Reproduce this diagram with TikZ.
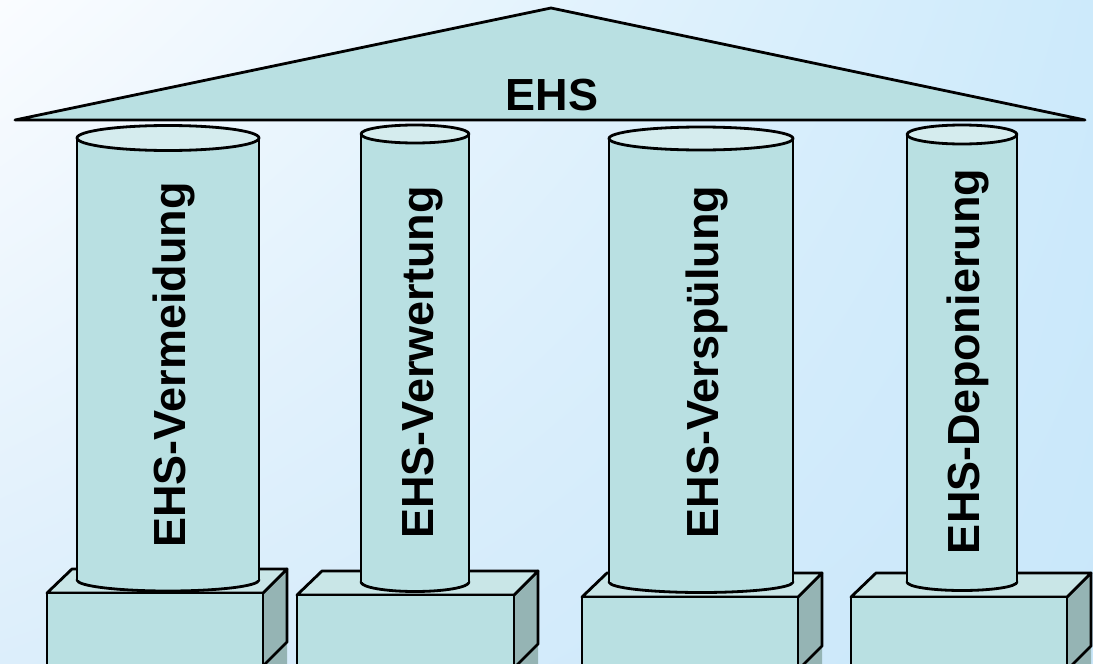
\documentclass[tikz,border=0pt]{standalone}
\usepackage{fontspec}
\setmainfont{Liberation Sans}
\usetikzlibrary{calc,shadings}
\definecolor{bgTL}{HTML}{FAFCFF}
\definecolor{bgTR}{HTML}{CDEAFB}
\definecolor{bgBL}{HTML}{DCEEFB}
\definecolor{bgBR}{HTML}{C9E7FA}
\definecolor{body}{HTML}{B9E0E2}
\definecolor{capc}{HTML}{D5ECEE}
\definecolor{topf}{HTML}{C9E6E7}
\definecolor{sidef}{HTML}{95B4B4}
\tikzset{
  outl/.style={draw=black, line width=2.8pt, line join=round},
  lbl/.style={font=\fontsize{45}{50}\selectfont\bfseries, text=black, inner sep=0pt},
  vlbl/.style={lbl, rotate=90, anchor=base},
}
% box: #1 front left x, #2 front right x, #3 front top y, #4 name
\newcommand{\plinth}[4]{%
  \coordinate (#4fl) at (#1,#3);
  \coordinate (#4fr) at (#2,#3);
  \fill[sidef] (#2,#3) -- ++(24,-24) -- ++(0,100) -- ++(-24,24) -- cycle;
  \draw[outl] (#2,#3) -- ++(24,-24) -- ++(0,73) -- ++(-24,24);
  \filldraw[outl, fill=topf] (#1,#3) -- ++(25,-24) -- ($(#2,#3)+(24,-24)$) -- (#2,#3) -- cycle;
  \filldraw[outl, fill=body] (#1,#3) rectangle (#2,700);
}
% cylinder: #1 x1, #2 x2, #3 top y, #4 top ry, #5 bottom y, #6 bottom ry
\newcommand{\column}[6]{%
  \filldraw[outl, fill=body] ({(#1+#2)/2},#5) ellipse [x radius={(#2-#1)/2*1pt}, y radius=#6pt];
  \fill[body] (#1,#3) rectangle (#2,#5);
  \draw[outl] (#1,#3) -- (#1,#5);
  \draw[outl] (#2,#3) -- (#2,#5);
  \filldraw[outl, fill=capc] ({(#1+#2)/2},#3) ellipse [x radius={(#2-#1)/2*1pt}, y radius=#4pt];
}
\begin{document}
\begin{tikzpicture}[x=1pt,y=-1pt]
\useasboundingbox (0,0) rectangle (1093,664);
\shade[upper left=bgTL, upper right=bgTR, lower left=bgBL, lower right=bgBR] (0,0) rectangle (1093,664);
\clip (0,0) rectangle (1093,664);
% plinths
\plinth{47}{263}{593}{b1}
\plinth{297}{514}{595}{b2}
\plinth{582}{798}{597}{b3}
\plinth{851}{1067}{597}{b4}
% columns
\column{77}{259}{138}{12.5}{580}{11}
\column{361}{469}{134}{9}{582}{9.5}
\column{609}{793}{138.5}{11.5}{582}{10.5}
\column{907}{1017}{134.5}{9.5}{582}{8.5}
% roof
\coordinate (apex) at (551,8);
\coordinate (rl) at (15,120);
\coordinate (rr) at (1085,120);
\filldraw[outl, fill=body] (rl) -- (apex) -- (rr) -- cycle;
\node[lbl, anchor=base] (roof) at (552,110) {EHS};
% labels
\node[vlbl] (t1) at (185,365) {EHS-Vermeidung};
\node[vlbl] (t2) at (433,362.5) {EHS-Verwertung};
\node[vlbl] (t3) at (718,362) {EHS-Verspülung};
\node[vlbl] (t4) at (979,361.5) {EHS-Deponierung};
\end{tikzpicture}
\end{document}
